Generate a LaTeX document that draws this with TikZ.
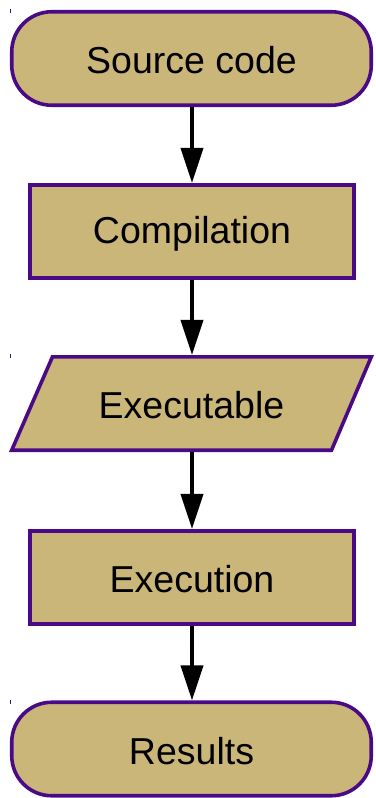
\documentclass[tikz,border=0pt]{standalone}
\usepackage{fontspec}
\setmainfont{Liberation Sans}
\usetikzlibrary{arrows.meta}
\definecolor{boxfill}{HTML}{CAB679}
\definecolor{boxline}{HTML}{4B0A85}
\begin{document}
\begin{tikzpicture}[x=1pt,y=-1pt,
  every node/.style={font=\fontsize{37.5}{44}\selectfont, text=black},
  terminal/.style={rectangle, rounded corners=40pt, draw=boxline, fill=boxfill,
    line width=3.6pt, minimum width=359.5pt, minimum height=93.5pt, inner sep=0pt},
  process/.style={rectangle, draw=boxline, fill=boxfill, line width=3.6pt,
    minimum width=324.5pt, minimum height=93.5pt, inner sep=0pt},
  iobox/.style={rectangle, minimum width=322pt, minimum height=93.5pt, inner sep=0pt,
    outer sep=1.8pt},
  boxtext/.style={yshift=-2pt},
  flow/.style={line width=4pt, -{Triangle[length=35pt,width=22pt]}},
  tick/.style={boxline, line width=1pt}]
  \useasboundingbox (0,0) rectangle (375,798);

  % start terminal and compilation step
  \node[terminal] (src) at (191.5,58.5) {};
  \node[boxtext] (srcT) at (src.center) {Source code};
  \node[process] (comp) at (192,231.5) {};
  \node[boxtext] (compT) at (comp.center) {Compilation};

  % input/output parallelogram
  \node[iobox] (exe) at (191.5,403.5) {};
  \coordinate (exeTL) at (52.5,356.8);
  \coordinate (exeTR) at (371.3,356.8);
  \coordinate (exeBR) at (331.5,450.2);
  \coordinate (exeBL) at (11.7,450.2);
  \draw[draw=boxline, fill=boxfill, line width=3.6pt, line join=miter]
    (exeTL) -- (exeTR) -- (exeBR) -- (exeBL) -- cycle;
  \node[boxtext] (exeT) at (exe.center) {Executable};

  % execution step and end terminal
  \node[process] (run) at (192,577.5) {};
  \node[boxtext] (runT) at (run.center) {Execution};
  \node[terminal] (res) at (191.5,749) {};
  \node[boxtext] (resT) at (res.center) {Results};

  % small marks at the left margin
  \coordinate (m1a) at (10,9);   \coordinate (m1b) at (10,13);
  \coordinate (m2a) at (10,354); \coordinate (m2b) at (10,358);
  \coordinate (m3a) at (10,700); \coordinate (m3b) at (10,704);
  \draw[tick] (m1a) -- (m1b);
  \draw[tick] (m2a) -- (m2b);
  \draw[tick] (m3a) -- (m3b);

  % flow arrows
  \draw[flow] (src.south -| comp.north) -- (comp.north);
  \draw[flow] (comp.south) -- (comp.south |- exe.north);
  \draw[flow] (comp.south |- exe.south) -- (run.north);
  \draw[flow] (run.south) -- (run.south |- res.north);
\end{tikzpicture}
\end{document}
